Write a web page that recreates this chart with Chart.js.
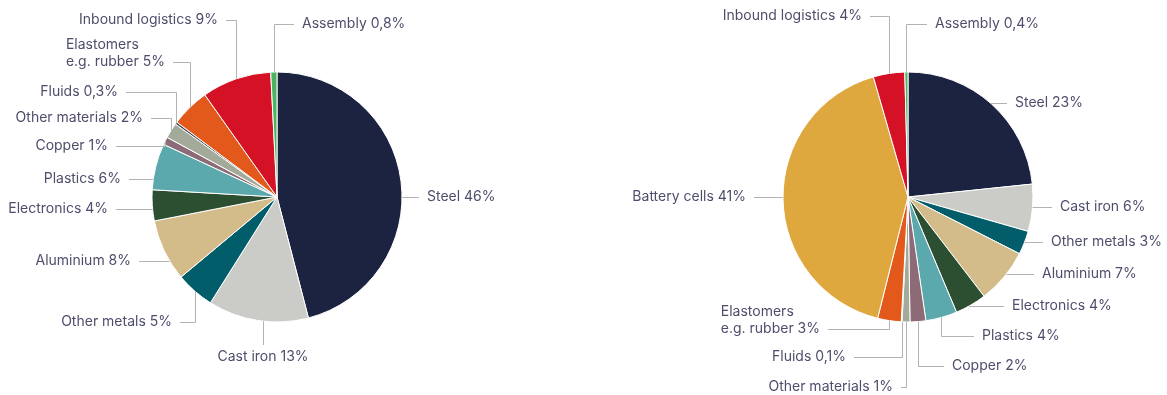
<!DOCTYPE html>
<html lang="en">
<head>
<meta charset="UTF-8">
<title>Material breakdown</title>
<script src="https://cdn.jsdelivr.net/npm/chart.js"></script>
<style>
  body { margin: 0; background: #fff; }
  .wrap { position: relative; width: 1167px; height: 395px; overflow: hidden; }
  .wrap canvas { position: absolute; left: 0; top: 0; }
</style>
</head>
<body>
<div class="wrap">
  <canvas id="leftChart" width="1167" height="395"></canvas>
  <canvas id="rightChart" width="1167" height="395"></canvas>
</div>
<script>
// left pie: conventional vehicle
const leftNames = ['Steel', 'Cast iron', 'Other metals', 'Aluminium', 'Electronics', 'Plastics',
  'Copper', 'Other materials', 'Fluids', 'Elastomers\ne.g. rubber', 'Inbound logistics', 'Assembly'];
const leftValues = [46, 13, 5, 8, 4, 6, 1, 2, 0.3, 5, 9, 0.8];

// right pie: battery electric vehicle
const rightNames = ['Steel', 'Cast iron', 'Other metals', 'Aluminium', 'Electronics', 'Plastics',
  'Copper', 'Other materials', 'Fluids', 'Elastomers\ne.g. rubber', 'Battery cells', 'Inbound logistics', 'Assembly'];
const rightValues = [23, 6, 3, 7, 4, 4, 2, 1, 0.1, 3, 41, 4, 0.4];

const colours = {
  'Steel': '#1b2340',
  'Cast iron': '#cbcbc8',
  'Other metals': '#015d69',
  'Aluminium': '#d3bc89',
  'Electronics': '#2c4e31',
  'Plastics': '#5ba9ac',
  'Copper': '#8c6a76',
  'Other materials': '#a3aa9a',
  'Fluids': '#3e4858',
  'Elastomers\ne.g. rubber': '#e3581b',
  'Battery cells': '#dfa83e',
  'Inbound logistics': '#d51225',
  'Assembly': '#4cb461'
};

// where each callout text sits (x = text edge next to the leader, y = last line)
const leftPlaces = [
  { x: 427, y: 197, align: 'left' },
  { x: 263, y: 357, align: 'below' },
  { x: 172, y: 322, align: 'right' },
  { x: 131, y: 261, align: 'right' },
  { x: 108, y: 209, align: 'right' },
  { x: 121, y: 179, align: 'right' },
  { x: 108, y: 146, align: 'right' },
  { x: 143, y: 118, align: 'right' },
  { x: 118, y: 92, align: 'right' },
  { x: 165, y: 62, align: 'right' },
  { x: 218, y: 20, align: 'right' },
  { x: 302, y: 24, align: 'left' }
];
const rightPlaces = [
  { x: 1015, y: 103, align: 'left' },
  { x: 1060, y: 207, align: 'left' },
  { x: 1051, y: 242, align: 'left' },
  { x: 1042, y: 274, align: 'left' },
  { x: 1012, y: 306, align: 'left' },
  { x: 982, y: 336, align: 'left' },
  { x: 952, y: 366, align: 'left' },
  { x: 893, y: 387, align: 'right' },
  { x: 846, y: 357, align: 'right' },
  { x: 820, y: 329, align: 'right' },
  { x: 746, y: 197, align: 'right' },
  { x: 862, y: 16, align: 'right' },
  { x: 935, y: 24, align: 'left' }
];

function pct(v) {
  return String(v).replace('.', ',') + '%';
}

const calloutPlugin = {
  id: 'callouts',
  afterDatasetsDraw(chart, args, opts) {
    const ctx = chart.ctx;
    const meta = chart.getDatasetMeta(0);
    const names = chart.data.labels;
    const values = chart.data.datasets[0].data;
    const gap = 8;
    const lineH = 17;
    ctx.save();
    ctx.font = '14px Inter, "Noto Sans", sans-serif';
    ctx.textBaseline = 'middle';
    ctx.fillStyle = '#4e4e6c';
    ctx.strokeStyle = '#b3b3b3';
    ctx.lineWidth = 1;

    meta.data.forEach((arc, i) => {
      const p = opts.places[i];
      const a = arc.getProps(['x', 'y', 'outerRadius', 'startAngle', 'endAngle'], true);
      const cx = a.x, cy = a.y, r = a.outerRadius;
      const lines = (names[i] + ' ' + pct(values[i])).split('\n');
      const widest = Math.max(...lines.map(t => ctx.measureText(t).width));

      ctx.beginPath();
      if (p.align === 'below') {
        // vertical leader straight down from the rim
        const dx = p.x - cx;
        const rimY = cy + Math.sqrt(Math.max(r * r - dx * dx, 0));
        ctx.moveTo(p.x + 0.5, rimY);
        ctx.lineTo(p.x + 0.5, p.y - 12);
        ctx.stroke();
        ctx.textAlign = 'center';
        ctx.fillText(lines[0], p.x, p.y);
        return;
      }

      const side = p.align === 'left' ? 1 : -1;
      const endX = p.x - side * gap;
      const ly = Math.round(p.y) + 0.5;
      const dy = p.y - cy;
      let straight = false;
      if (Math.abs(dy) < r) {
        const dx = side * Math.sqrt(r * r - dy * dy);
        let ang = Math.atan2(dy, dx);
        while (ang < a.startAngle) ang += Math.PI * 2;
        if (ang <= a.endAngle) {
          ctx.moveTo(cx + dx, ly);
          ctx.lineTo(endX, ly);
          straight = true;
        }
      }
      if (!straight) {
        const mid = (a.startAngle + a.endAngle) / 2;
        const ax = Math.round(cx + r * Math.cos(mid)) + 0.5;
        const ay = cy + r * Math.sin(mid);
        ctx.moveTo(ax, ay);
        ctx.lineTo(ax, ly);
        ctx.lineTo(endX, ly);
      }
      ctx.stroke();

      const x0 = p.align === 'left' ? p.x : p.x - widest;
      ctx.textAlign = 'left';
      lines.forEach((t, k) => {
        ctx.fillText(t, x0, p.y - (lines.length - 1 - k) * lineH);
      });
    });
    ctx.restore();
  }
};

function makePie(id, names, values, places, padding) {
  return new Chart(document.getElementById(id), {
    type: 'pie',
    data: {
      labels: names,
      datasets: [{
        data: values,
        backgroundColor: names.map(n => colours[n]),
        borderColor: '#ffffff',
        borderWidth: 1,
        hoverOffset: 0
      }]
    },
    options: {
      responsive: false,
      animation: false,
      radius: 125,
      layout: { padding: padding },
      plugins: {
        legend: { display: false },
        tooltip: { enabled: false },
        callouts: { places: places }
      }
    },
    plugins: [calloutPlugin]
  });
}

makePie('leftChart', leftNames, leftValues, leftPlaces, { left: 0, right: 613, top: 0, bottom: 1 });
makePie('rightChart', rightNames, rightValues, rightPlaces, { left: 649, right: 0, top: 0, bottom: 1 });
</script>
</body>
</html>
